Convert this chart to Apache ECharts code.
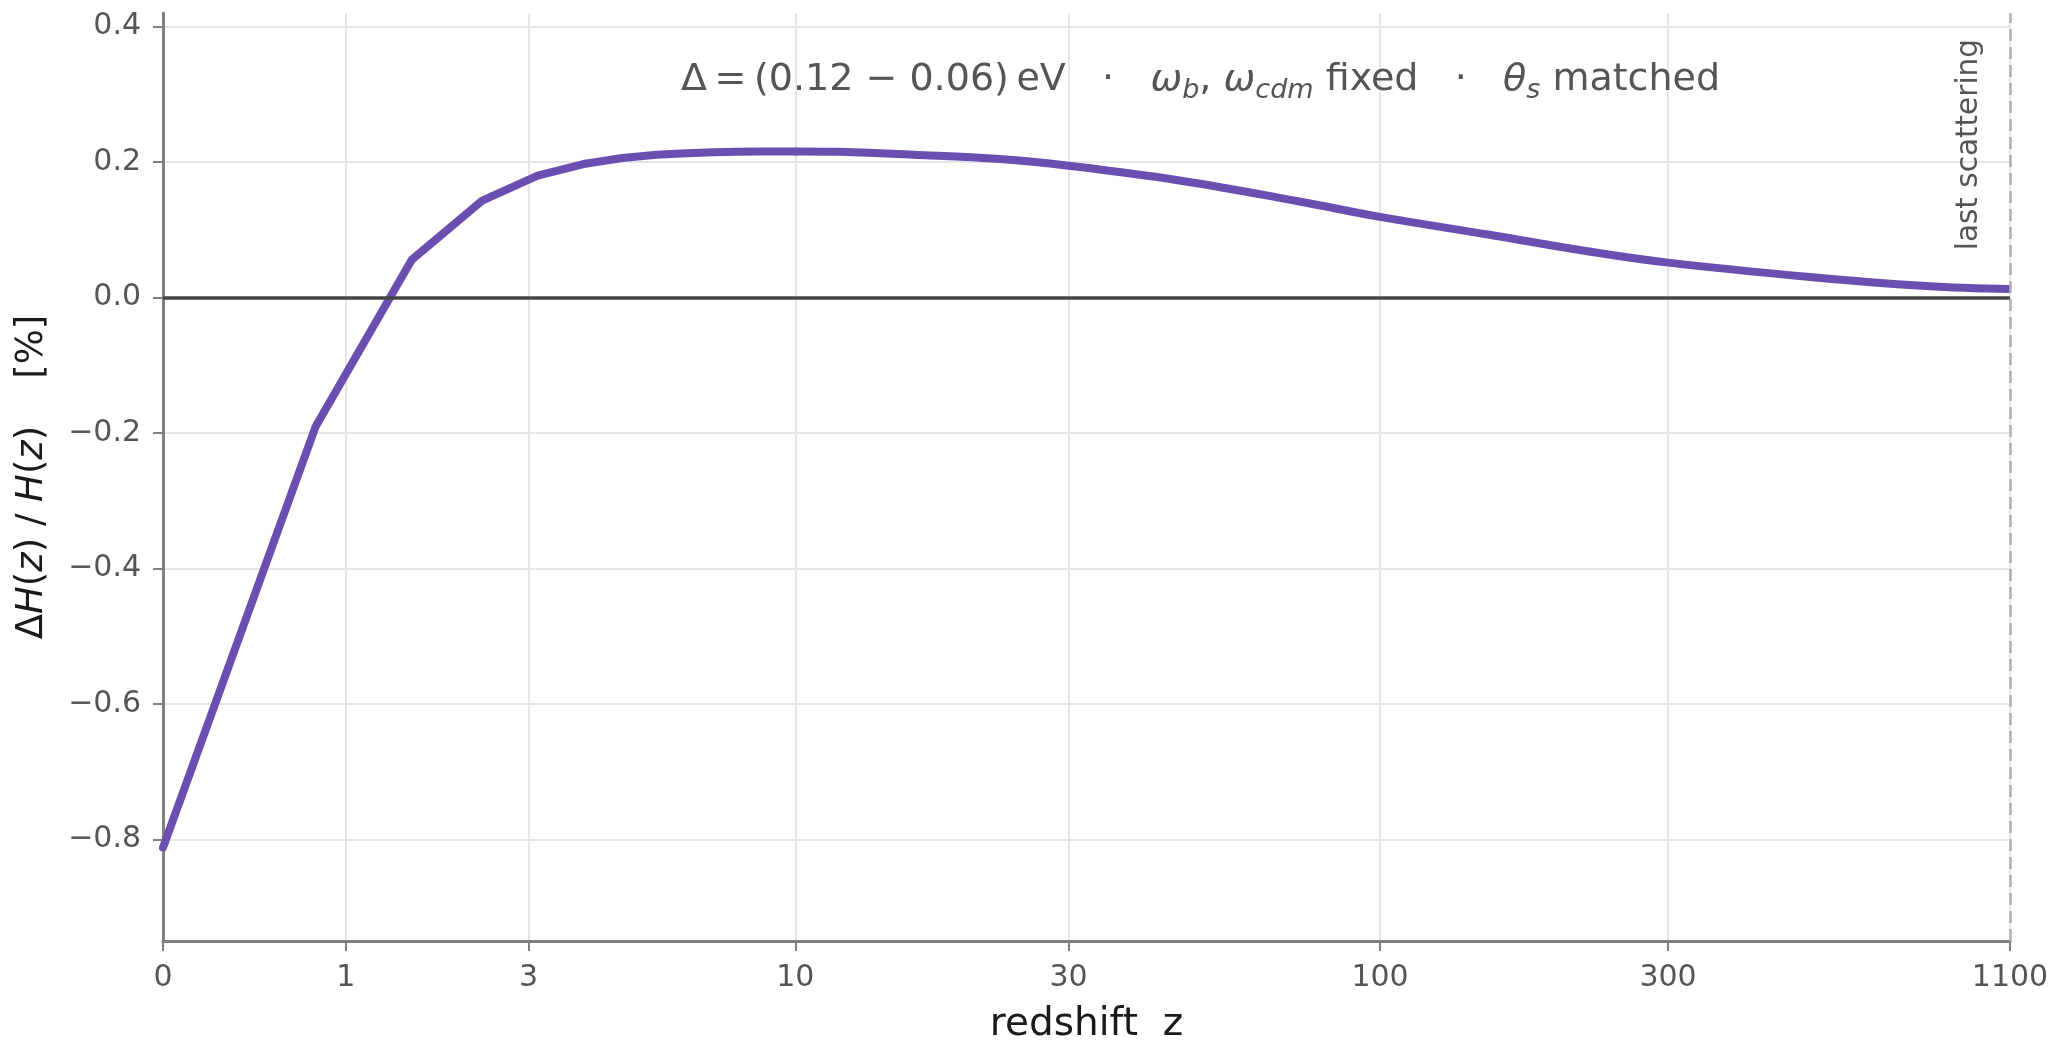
<!DOCTYPE html>
<html>
<head>
<meta charset="utf-8">
<title>Delta H(z) / H(z)</title>
<script src="https://cdn.jsdelivr.net/npm/echarts@6/dist/echarts.min.js"></script>
<style>
    html, body { margin: 0; padding: 0; background: #ffffff; }
    #chart { width: 2055px; height: 1041px; }
</style>
</head>
<body>
<div id="chart"></div>
<script>
// low redshift: coarse grid, drawn with straight segments like the original
var redshiftLow = [0, 0.785, 1.57, 2.355, 3.14, 3.925, 4.71, 5.495, 6.28, 7.065, 7.85, 8.635, 9.42, 10];
var deltaHLow = [-0.812, -0.190, 0.056, 0.143, 0.180, 0.197, 0.206, 0.2106, 0.2130, 0.2145, 0.2152, 0.2156, 0.2157, 0.2157];

// high redshift: smooth tail out to last scattering
var redshiftHigh = [10, 12, 16.2, 22.9, 30, 46.2, 73.4, 100, 152, 222, 300, 520, 800, 1100];
var deltaHHigh = [0.2157, 0.2150, 0.2108, 0.2044, 0.1945, 0.1728, 0.1418, 0.1190, 0.0926, 0.068, 0.0515, 0.030, 0.017, 0.0124];

var xTickLabels = [0, 1, 3, 10, 30, 100, 300, 1100];
var yTickValues = [-0.8, -0.6, -0.4, -0.2, 0.0, 0.2, 0.4];
var lastScattering = 1100;

var FONT = 'DejaVu Sans';
var PURPLE = '#6a4fb1';

document.addEventListener('DOMContentLoaded', function() {
    var chart = echarts.init(document.getElementById('chart'));

    // the axis is log(1+z), so the data and ticks go in as 1+z
    function toPoints(zs, vals) {
        return zs.map(function(z, i) { return [1 + z, vals[i]]; });
    }
    var xTicks = xTickLabels.map(function(z) { return 1 + z; });

    var titleStyle = {fontFamily: FONT, fontSize: 38, color: '#555555'};
    var mathStyle = {fontFamily: FONT, fontSize: 38, color: '#555555', fontStyle: 'italic'};
    var subStyle = {fontFamily: FONT, fontSize: 27, color: '#555555', fontStyle: 'italic', verticalAlign: 'bottom', lineHeight: 26};

    var nameStyle = {fontFamily: FONT, fontSize: 37, color: '#1a1a1a'};
    var nameItalic = {fontFamily: FONT, fontSize: 37, color: '#1a1a1a', fontStyle: 'italic'};

    var gap = '   ·   ';

    var option = {
        animation: false,
        backgroundColor: '#ffffff',
        textStyle: {fontFamily: FONT},
        title: {
            text: '{n|Δ\u2009=\u2009(0.12 − 0.06)\u2009eV' + gap + '}{m|ω}{s|b}{n|, }{m|ω}{s|cdm}{n| fixed' + gap + '}{m|θ}{s|s}{n| matched}',
            left: 681,
            top: 56,
            padding: 0,
            textStyle: {
                fontFamily: FONT,
                fontSize: 38,
                fontWeight: 'normal',
                color: '#555555',
                lineHeight: 48,
                rich: {n: titleStyle, m: mathStyle, s: subStyle}
            }
        },
        grid: {left: 163, right: 45, top: 13, bottom: 100, outerBoundsMode: 'none', containLabel: false},
        xAxis: {
            type: 'log',
            logBase: 10,
            min: 1,
            max: 1 + lastScattering + 0.0001,
            name: 'redshift  z',
            nameLocation: 'middle',
            nameGap: 64,
            nameTextStyle: {fontFamily: FONT, fontSize: 39, color: '#1a1a1a'},
            axisLine: {show: true, onZero: false, lineStyle: {color: '#808080', width: 3}},
            axisTick: {show: true, customValues: xTicks, length: 10, lineStyle: {color: '#808080', width: 2}},
            axisLabel: {
                customValues: xTicks,
                fontSize: 30,
                color: '#555555',
                margin: 22,
                formatter: function(v) { return String(Math.round(v - 1)); }
            },
            splitLine: {show: true, lineStyle: {color: '#e6e6e6', width: 2}},
            minorTick: {show: false},
            minorSplitLine: {show: false}
        },
        yAxis: {
            type: 'value',
            min: -0.95,
            max: 0.42,
            name: '{n|Δ}{i|H}{n|(}{i|z}{n|) / }{i|H}{n|(}{i|z}{n|)    [%]}',
            nameLocation: 'middle',
            nameGap: 112,
            nameRotate: 90,
            nameTextStyle: {fontFamily: FONT, fontSize: 37, color: '#1a1a1a', rich: {n: nameStyle, i: nameItalic}},
            axisLine: {show: true, onZero: false, lineStyle: {color: '#808080', width: 3}},
            axisTick: {show: true, customValues: yTickValues, length: 10, lineStyle: {color: '#808080', width: 2}},
            axisLabel: {
                customValues: yTickValues,
                fontSize: 30,
                color: '#555555',
                margin: 22,
                formatter: function(v) {
                    var s = Math.abs(v).toFixed(1);
                    return v < -1e-9 ? '\u2212' + s : s;
                }
            },
            splitLine: {show: true, lineStyle: {color: '#e6e6e6', width: 2}}
        },
        series: [
            {
                // reference lines: zero and last scattering
                type: 'line',
                data: [],
                z: 1,
                markLine: {
                    silent: true,
                    symbol: ['none', 'none'],
                    animation: false,
                    data: [
                        {
                            yAxis: 0,
                            lineStyle: {color: '#444444', width: 3.5, type: 'solid'},
                            label: {show: false}
                        },
                        {
                            xAxis: 1 + lastScattering,
                            lineStyle: {color: '#b0b0b0', width: 2.5, type: [12, 6]},
                            label: {
                                show: true,
                                formatter: 'last scattering',
                                position: 'insideEndTop',
                                distance: 26,
                                fontFamily: FONT,
                                fontSize: 29.5,
                                color: '#555555'
                            }
                        }
                    ]
                }
            },
            {
                type: 'line',
                data: toPoints(redshiftLow, deltaHLow),
                showSymbol: false,
                z: 3,
                lineStyle: {color: PURPLE, width: 8, cap: 'round', join: 'round'}
            },
            {
                type: 'line',
                data: toPoints(redshiftHigh, deltaHHigh),
                showSymbol: false,
                smooth: 0.4,
                z: 3,
                lineStyle: {color: PURPLE, width: 8, cap: 'butt', join: 'round'}
            }
        ]
    };

    chart.setOption(option);
});
</script>
</body>
</html>
